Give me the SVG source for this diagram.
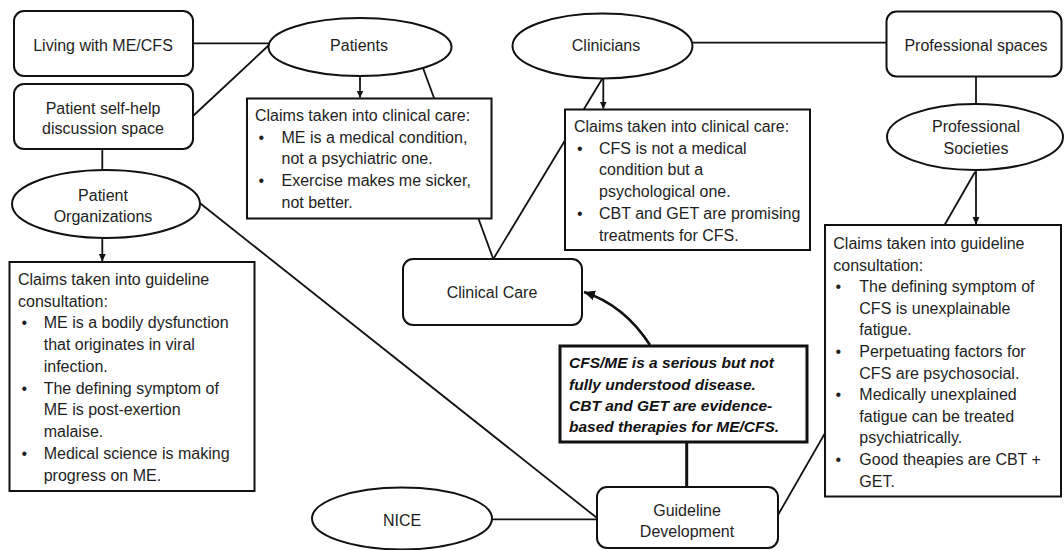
<svg xmlns="http://www.w3.org/2000/svg" width="1064" height="550" viewBox="0 0 1064 550">
<style>
.n{fill:#fff;stroke:#111;stroke-width:2}
.c{fill:none;stroke:#111;stroke-width:1.8}
.lbl{font-family:"Liberation Sans",Arial,sans-serif;font-size:16px;fill:#1e1e1e;text-anchor:middle}
.cl{font-family:"Liberation Sans",Arial,sans-serif;font-size:16px;fill:#1e1e1e}
.bi{font-family:"Liberation Sans",Arial,sans-serif;font-size:15.5px;font-weight:bold;font-style:italic;fill:#111}
</style>
<defs>
<marker id="ah" markerWidth="8" markerHeight="8" refX="7" refY="4" orient="auto" markerUnits="userSpaceOnUse"><path d="M0,0.5 L7.5,4 L0,7.5 z" fill="#111"/></marker>
<marker id="ahb" markerWidth="12" markerHeight="12" refX="11" refY="6" orient="auto" markerUnits="userSpaceOnUse"><path d="M0,1 L11,6 L0,11 z" fill="#111"/></marker>
</defs>
<rect width="1064" height="550" fill="#fff"/>
<g id="connectors">
<path class="c" d="M193,43.3 H269"/>
<path class="c" d="M193,116 L269,45"/>
<path class="c" d="M102.3,149 V170"/>
<path class="c" d="M102.3,238.3 V261" marker-end="url(#ah)"/>
<path class="c" d="M360,76 V97.5" marker-end="url(#ah)"/>
<path class="c" d="M423,68 L493.3,259"/>
<path class="c" d="M603.3,78.5 V108.5" marker-end="url(#ah)"/>
<path class="c" d="M602.7,78 L493.3,259"/>
<path class="c" d="M692.5,42.7 H886.5"/>
<path class="c" d="M976,76.5 V104"/>
<path class="c" d="M976,170 V224" marker-end="url(#ah)"/>
<path class="c" d="M975,172 L778,515"/>
<path class="c" d="M196,200 L597,518"/>
<path class="c" d="M492,519.3 H597"/>
<path class="c" d="M686.7,442 V487" style="stroke-width:3"/>
<path class="c" d="M650,345 Q624,305 584,292" style="stroke-width:2.6" marker-end="url(#ahb)"/>
</g>
<g id="living"><rect class="n" x="14" y="11" width="179" height="65" rx="10"/><text class="lbl" x="103" y="50.5">Living with ME/CFS</text></g>
<g id="selfhelp"><rect class="n" x="14" y="84" width="179" height="65" rx="10"/><text class="lbl"><tspan x="103" y="113.5">Patient self-help</tspan><tspan x="103" y="133.5">discussion space</tspan></text></g>
<g id="patients"><ellipse class="n" cx="360" cy="47" rx="91.5" ry="29"/><text class="lbl" x="359" y="51">Patients</text></g>
<g id="patorg"><ellipse class="n" cx="106" cy="204" rx="94" ry="34"/><text class="lbl"><tspan x="103" y="200.5">Patient</tspan><tspan x="103" y="222">Organizations</tspan></text></g>
<g id="patclaims"><rect class="n" x="247" y="98.5" width="244.5" height="120"/>
<text class="cl"><tspan x="255" y="120.8">Claims taken into clinical care:</tspan><tspan x="258.5" y="142.5">•</tspan><tspan x="281.5" y="142.5">ME is a medical condition,</tspan><tspan x="281.5" y="164.2">not a psychiatric one.</tspan><tspan x="258.5" y="185.9">•</tspan><tspan x="281.5" y="185.9">Exercise makes me sicker,</tspan><tspan x="281.5" y="207.6">not better.</tspan></text></g>
<g id="clinicians"><ellipse class="n" cx="602.5" cy="46" rx="90" ry="32.5"/><text class="lbl" x="606" y="51">Clinicians</text></g>
<g id="clinclaims"><rect class="n" x="565" y="109.5" width="245" height="140.5"/>
<text class="cl"><tspan x="574" y="132">Claims taken into clinical care:</tspan><tspan x="577" y="153.7">•</tspan><tspan x="599" y="153.7">CFS is not a medical</tspan><tspan x="599" y="175.4">condition but a</tspan><tspan x="599" y="197.1">psychological one.</tspan><tspan x="577" y="218.8">•</tspan><tspan x="599" y="218.8">CBT and GET are promising</tspan><tspan x="599" y="240.5">treatments for CFS.</tspan></text></g>
<g id="profspaces"><rect class="n" x="886.5" y="11.5" width="175" height="65" rx="10"/><text class="lbl" x="976" y="50.5">Professional spaces</text></g>
<g id="profsoc"><ellipse class="n" cx="975" cy="137" rx="88" ry="33"/><text class="lbl"><tspan x="976" y="132">Professional</tspan><tspan x="976" y="154">Societies</tspan></text></g>
<g id="rightclaims"><rect class="n" x="825" y="225" width="236" height="271.5"/>
<text class="cl"><tspan x="833.3" y="249">Claims taken into guideline</tspan><tspan x="833.3" y="270.6">consultation:</tspan><tspan x="835.5" y="292.2">•</tspan><tspan x="859.3" y="292.2">The defining symptom of</tspan><tspan x="859.3" y="313.8">CFS is unexplainable</tspan><tspan x="859.3" y="335.4">fatigue.</tspan><tspan x="835.5" y="357">•</tspan><tspan x="859.3" y="357">Perpetuating factors for</tspan><tspan x="859.3" y="378.6">CFS are psychosocial.</tspan><tspan x="835.5" y="400.2">•</tspan><tspan x="859.3" y="400.2">Medically unexplained</tspan><tspan x="859.3" y="421.8">fatigue can be treated</tspan><tspan x="859.3" y="443.4">psychiatrically.</tspan><tspan x="835.5" y="465">•</tspan><tspan x="859.3" y="465">Good theapies are CBT +</tspan><tspan x="859.3" y="486.6">GET.</tspan></text></g>
<g id="leftclaims"><rect class="n" x="9.5" y="262" width="245" height="229"/>
<text class="cl"><tspan x="18" y="284.8">Claims taken into guideline</tspan><tspan x="18" y="306.5">consultation:</tspan><tspan x="21.5" y="328.3">•</tspan><tspan x="43.7" y="328.3">ME is a bodily dysfunction</tspan><tspan x="43.7" y="350">that originates in viral</tspan><tspan x="43.7" y="371.8">infection.</tspan><tspan x="21.5" y="393.5">•</tspan><tspan x="43.7" y="393.5">The defining symptom of</tspan><tspan x="43.7" y="415.2">ME is post-exertion</tspan><tspan x="43.7" y="437">malaise.</tspan><tspan x="21.5" y="458.7">•</tspan><tspan x="43.7" y="458.7">Medical science is making</tspan><tspan x="43.7" y="480.5">progress on ME.</tspan></text></g>
<g id="clinicalcare"><rect class="n" x="403" y="259" width="179" height="66" rx="10"/><text class="lbl" x="492" y="298">Clinical Care</text></g>
<g id="consensus"><rect class="n" x="560" y="346" width="247" height="96" style="stroke-width:3"/>
<text class="bi"><tspan x="569" y="368">CFS/ME is a serious but not</tspan><tspan x="569" y="389.5">fully understood disease.</tspan><tspan x="569" y="411">CBT and GET are evidence-</tspan><tspan x="569" y="432">based therapies for ME/CFS.</tspan></text></g>
<g id="guideline"><rect class="n" x="597" y="487" width="181" height="61" rx="10"/><text class="lbl"><tspan x="687" y="515.5">Guideline</tspan><tspan x="687" y="537">Development</tspan></text></g>
<g id="nice"><ellipse class="n" cx="402" cy="518.5" rx="90" ry="31"/><text class="lbl" x="402" y="525.5">NICE</text></g>
</svg>
